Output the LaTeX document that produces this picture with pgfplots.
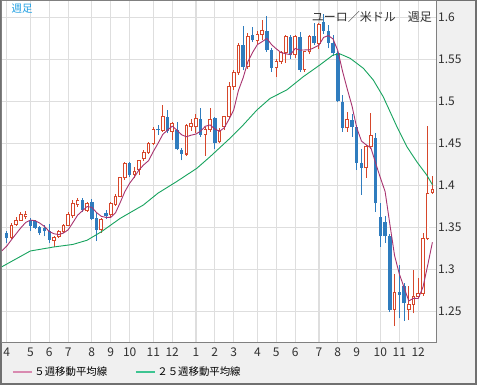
\documentclass[border=0pt]{standalone}
\usepackage{pgfplots}
\pgfplotsset{compat=1.18}
\usepackage{pgfplotstable}
\usepackage{fontspec}
\setmainfont{Noto Sans CJK JP}

\definecolor{upred}{HTML}{D6472B}
\definecolor{dnblue}{HTML}{2F7CBE}
\definecolor{mafive}{HTML}{A8336F}
\definecolor{matwfive}{HTML}{17A35E}
\definecolor{legpink}{HTML}{D98AB0}
\definecolor{leggreen}{HTML}{3DC491}
\definecolor{gridgray}{HTML}{DEDEDE}
\definecolor{axisgray}{HTML}{808080}
\definecolor{framegray}{HTML}{707070}
\definecolor{panelgray}{HTML}{F0F0F0}
\definecolor{titlecyan}{HTML}{1E9FE3}
\definecolor{textgray}{HTML}{303030}

\pgfplotstableread{
i O H L C
1 1.3385 1.3550 1.3370 1.3530
2 1.3535 1.3625 1.3525 1.3590
3 1.3590 1.3680 1.3580 1.3655
4 1.3630 1.3700 1.3600 1.3650
10 1.3345 1.3395 1.3270 1.3385
11 1.3390 1.3470 1.3375 1.3450
12 1.3450 1.3545 1.3440 1.3530
13 1.3530 1.3680 1.3520 1.3650
14 1.3640 1.3830 1.3620 1.3785
15 1.3775 1.3850 1.3750 1.3825
17 1.3705 1.3800 1.3690 1.3785
20 1.3475 1.3620 1.3440 1.3600
22 1.3650 1.3800 1.3630 1.3790
23 1.3775 1.3900 1.3760 1.3870
24 1.3870 1.4100 1.3860 1.4090
25 1.4090 1.4285 1.4070 1.4260
27 1.4130 1.4225 1.4085 1.4170
28 1.4185 1.4300 1.4126 1.4295
29 1.4320 1.4420 1.4290 1.4390
30 1.4390 1.4520 1.4370 1.4500
31 1.4500 1.4700 1.4480 1.4670
33 1.4660 1.4960 1.4640 1.4825
35 1.4645 1.4760 1.4540 1.4735
38 1.4375 1.4730 1.4350 1.4710
39 1.4705 1.4790 1.4650 1.4740
40 1.4700 1.4850 1.4620 1.4800
42 1.4605 1.4700 1.4355 1.4670
43 1.4665 1.4920 1.4640 1.4785
45 1.4520 1.4680 1.4500 1.4660
46 1.4700 1.4830 1.4660 1.4815
47 1.4820 1.5235 1.4800 1.5175
48 1.5175 1.5375 1.5140 1.5340
49 1.5340 1.5690 1.5320 1.5670
51 1.5415 1.5810 1.5390 1.5770
53 1.5720 1.5840 1.5680 1.5800
54 1.5800 1.5970 1.5730 1.5840
57 1.5400 1.5500 1.5290 1.5475
58 1.5475 1.5600 1.5450 1.5580
59 1.5580 1.5790 1.5460 1.5770
61 1.5555 1.5790 1.5520 1.5770
63 1.5375 1.5600 1.5350 1.5590
64 1.5590 1.5790 1.5560 1.5775
66 1.5690 1.5930 1.5620 1.5910
72 1.4685 1.4880 1.4640 1.4780
76 1.4210 1.4480 1.4090 1.4460
77 1.4460 1.4860 1.4440 1.4600
82 1.2530 1.2950 1.2330 1.2730
85 1.2530 1.2800 1.2400 1.2585
86 1.2590 1.3000 1.2480 1.2680
87 1.2680 1.2900 1.2660 1.2720
88 1.2720 1.3430 1.2690 1.3370
89 1.3370 1.4710 1.3350 1.3900
90 1.3920 1.4110 1.3900 1.3955
}\updata

\pgfplotstableread{
i O H L C
0 1.3430 1.3460 1.3315 1.3375
5 1.3595 1.3615 1.3455 1.3520
6 1.3575 1.3590 1.3480 1.3500
7 1.3510 1.3525 1.3412 1.3440
8 1.3500 1.3532 1.3395 1.3455
9 1.3455 1.3545 1.3315 1.3355
16 1.3825 1.3855 1.3690 1.3705
18 1.3800 1.3835 1.3585 1.3605
19 1.3610 1.3690 1.3340 1.3475
21 1.3670 1.3710 1.3600 1.3640
26 1.4265 1.4285 1.4100 1.4125
32 1.4670 1.4720 1.4600 1.4655
34 1.4815 1.4900 1.4620 1.4645
36 1.4660 1.4760 1.4420 1.4430
37 1.4420 1.4445 1.4300 1.4380
41 1.4790 1.4920 1.4580 1.4605
44 1.4800 1.4810 1.4430 1.4505
50 1.5670 1.5900 1.5370 1.5415
52 1.5790 1.5890 1.5705 1.5725
55 1.5840 1.6020 1.5590 1.5610
56 1.5610 1.5640 1.5355 1.5400
60 1.5770 1.5790 1.5500 1.5555
62 1.5770 1.5830 1.5350 1.5375
65 1.5775 1.5930 1.5670 1.5690
67 1.5940 1.6040 1.5800 1.5840
68 1.5835 1.5910 1.5630 1.5700
69 1.5700 1.5790 1.5540 1.5570
70 1.5570 1.5600 1.4990 1.5000
71 1.4990 1.5080 1.4640 1.4685
73 1.4780 1.4850 1.4580 1.4700
74 1.4700 1.4720 1.4190 1.4270
75 1.4270 1.4430 1.3890 1.4210
78 1.4560 1.4620 1.3690 1.3790
79 1.3630 1.3790 1.3275 1.3400
80 1.3570 1.3640 1.3320 1.3395
81 1.3395 1.3420 1.2500 1.2525
83 1.2740 1.3050 1.2420 1.2700
84 1.2800 1.2840 1.2390 1.2600
}\downdata

\pgfplotsset{candlebar/.style={forget plot, draw=none, mark=none,
  error bars/.cd, y dir=plus, y explicit, error mark=none}}

\begin{document}
\begin{tikzpicture}[x=1pt,y=1pt]
\path[use as bounding box] (0,0) rectangle (478,385);
\fill[white] (0,0) rectangle (478,385);
\draw[framegray, line width=1.5pt, fill=panelgray] (0.75,1.25) rectangle (476,384.25);

\begin{axis}[
  at={(2pt,43pt)}, anchor=south west,
  scale only axis, width=434pt, height=341pt,
  xmin=-0.99, xmax=90.76, ymin=1.214, ymax=1.6194,
  axis background/.style={fill=white},
  axis line style={draw=axisgray, line width=1pt},
  xtick={0,5,9,13,18,22,26,31,35,40,44,48,53,57,61,66,70,74,79,83,87},
  xticklabels={4,5,6,7,8,9,10,11,12,1,2,3,4,5,6,7,8,9,10,11,12},
  ytick={1.25,1.3,1.35,1.4,1.45,1.5,1.55,1.6},
  yticklabels={1.25,1.3,1.35,1.4,1.45,1.5,1.55,1.6},
  yticklabel pos=right,
  major tick length=0pt, tick style={draw=none},
  grid=major, grid style={draw=gridgray, line width=1.3pt},
  ticklabel style={font=\fontsize{12}{14}\selectfont, text=textgray, inner sep=0pt},
  xticklabel style={anchor=north, yshift=-6pt},
  yticklabel style={anchor=west, xshift=2pt},
  legend columns=2,
  legend style={at={(axis description cs:0,0)}, anchor=west, xshift=10pt, yshift=-30pt,
    draw=none, fill=none, inner sep=0pt, font=\fontsize{10.4}{12}\selectfont,
    /tikz/every even column/.append style={column sep=26pt}},
  legend image code/.code={\draw[#1, line width=1.2pt] (0pt,0pt) -- (19pt,0pt);},
]

% wicks
\addplot[candlebar, error bar style={draw=dnblue, line width=0.9pt}]
  table[x=i, y=L, y error plus expr={\thisrow{H}-\thisrow{L}}] {\downdata};
\addplot[candlebar, error bar style={draw=upred, line width=0.9pt}]
  table[x=i, y=L, y error plus expr={\thisrow{H}-\thisrow{L}}] {\updata};

% bodies of falling weeks
\addplot[candlebar, error bar style={draw=dnblue, line width=3.4pt}]
  table[x=i, y=C, y error plus expr={\thisrow{O}-\thisrow{C}}] {\downdata};

% bodies of rising weeks (outline, then hollow inside)
\addplot[candlebar, error bar style={draw=upred, line width=3.6pt}]
  table[x=i, y expr={\thisrow{O}-0.0006}, y error plus expr={\thisrow{C}-\thisrow{O}+0.0012}] {\updata};
\addplot[candlebar, error bar style={draw=white, line width=1.8pt}]
  table[x=i, y expr={\thisrow{O}+0.0006}, y error plus expr={max(\thisrow{C}-\thisrow{O}-0.0012,0)}] {\updata};

% 25-week moving average
\addplot[forget plot, matwfive, line width=0.9pt] coordinates {
(-1,1.3035) (5,1.3222) (10,1.3270) (14,1.3300) (17,1.3350) (20,1.3450)
(22,1.3530) (24,1.3610) (28.9,1.3769) (32,1.3910) (35.9,1.4046) (40.2,1.4205)
(43,1.4343) (47.2,1.4562) (50,1.4720) (52.9,1.4898) (55.7,1.5037) (59.2,1.5136)
(62.7,1.5294) (66.2,1.5433) (69,1.5552) (70.5,1.5564) (72.6,1.5513) (75.4,1.5394)
(77.5,1.5255) (79.6,1.5056) (82.5,1.4699) (84.6,1.4462) (86.7,1.4283) (88.8,1.4125)
(90,1.4010)
};

% 5-week moving average
\addplot[forget plot, mafive, line width=0.9pt] coordinates {
(-1,1.3224) (0,1.3279) (1,1.3355) (2,1.3427) (3,1.3498) (4,1.3560) (5,1.3589)
(6,1.3583) (7,1.3553) (8,1.3513) (9,1.3454) (10,1.3427) (11,1.3417) (12,1.3435)
(13,1.3474) (14,1.3560) (15,1.3648) (16,1.3699) (17,1.3750) (18,1.3741) (19,1.3679)
(20,1.3634) (21,1.3621) (22,1.3622) (23,1.3675) (24,1.3798) (25,1.3930) (26,1.4027)
(27,1.4103) (28,1.4188) (29,1.4248) (30,1.4296) (31,1.4405) (32,1.4502) (33,1.4608)
(34,1.4659) (35,1.4706) (36,1.4658) (37,1.4603) (38,1.4580) (39,1.4599) (40,1.4612)
(41,1.4647) (42,1.4705) (43,1.4720) (44,1.4673) (45,1.4645) (46,1.4687) (47,1.4788)
(48,1.4899) (49,1.5132) (50,1.5283) (51,1.5474) (52,1.5584) (53,1.5676) (54,1.5710)
(55,1.5749) (56,1.5675) (57,1.5625) (58,1.5581) (59,1.5567) (60,1.5556) (61,1.5630)
(62,1.5610) (63,1.5612) (64,1.5613) (65,1.5640) (66,1.5668) (67,1.5761) (68,1.5783)
(69,1.5742) (70,1.5604) (71,1.5359) (72,1.5147) (73,1.4947) (74,1.4687) (75,1.4529)
(76,1.4484) (77,1.4448) (78,1.4266) (79,1.4092) (80,1.3929) (81,1.3542) (82,1.3168)
(83,1.2950) (84,1.2790) (85,1.2628) (86,1.2659) (87,1.2657) (88,1.2791) (89,1.3051)
(90,1.3325)
};

\addlegendimage{draw=legpink}
\addlegendentry{５週移動平均線}
\addlegendimage{draw=leggreen}
\addlegendentry{２５週移動平均線}
\end{axis}

\node[anchor=east, inner sep=0pt, font=\fontsize{12}{14}\selectfont, text=textgray] at (432,368.3) {ユーロ／米ドル　週足};
\node[anchor=west, inner sep=0pt, font=\fontsize{10.5}{12}\selectfont, text=titlecyan] at (11.5,376.7) {週足};
\end{tikzpicture}
\end{document}
